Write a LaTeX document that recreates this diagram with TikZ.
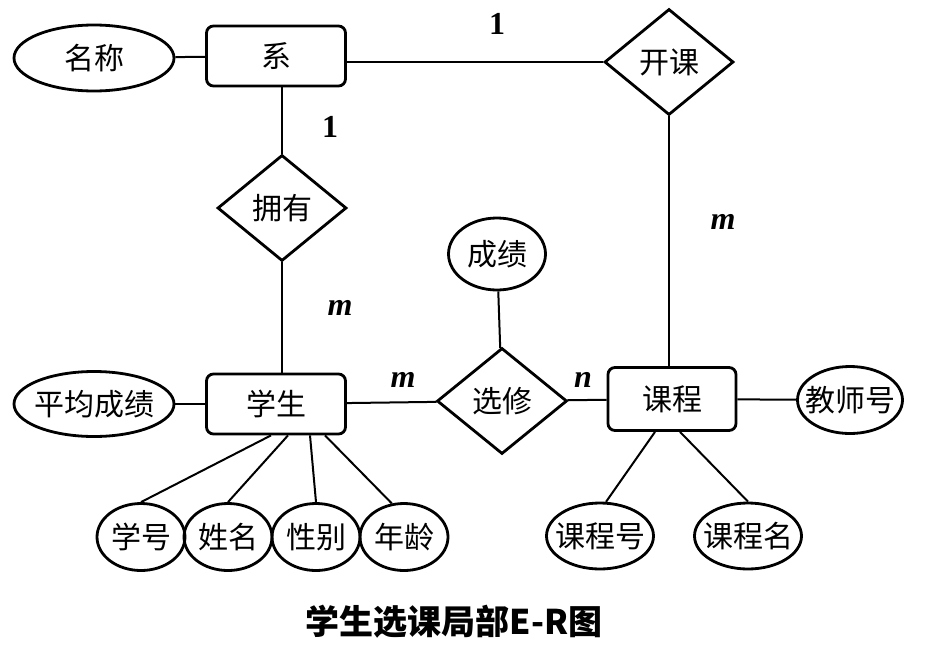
\documentclass[tikz,border=0pt]{standalone}
\usepackage{fontspec}
\setmainfont{Noto Sans CJK SC}
\newfontfamily\numfont{Liberation Serif}
\usetikzlibrary{shapes.geometric}
\tikzset{every node/.style={inner sep=0pt}}
\tikzset{ent/.style={rectangle,draw,line width=2.8pt,rounded corners=7pt,minimum width=139pt,minimum height=60pt}}
\tikzset{rel/.style={diamond,draw,line width=2.8pt,minimum width=129pt,minimum height=106pt}}
\tikzset{attr/.style={ellipse,draw,line width=2.8pt,minimum height=66pt}}
\tikzset{card/.style={font=\numfont\bfseries\fontsize{32}{32}\selectfont}}
\newcommand\lbl[1]{\makebox[0pt]{#1}}

\begin{document}
\begin{tikzpicture}[x=1pt,y=-1pt,font=\fontsize{30}{36}\selectfont,line width=2pt]
  \useasboundingbox (0,0) rectangle (937,656);
  % entities
  \node[ent] (xi) at (276,56) {系};
  \node[ent] (stu) at (276,404) {学生};
  \node[ent,minimum width=128pt,minimum height=63pt] (kc) at (672,399) {课程};
  % relationships
  \node[rel] (yy) at (282,208) {拥有};
  \node[rel] (kk) at (669,62) {开课};
  \node[rel,minimum width=130pt] (xx) at (502,401) {选修};
  % attributes
  \node[attr,minimum width=160pt] (mc) at (94,58) {\lbl{名称}};
  \node[attr,minimum width=160pt,minimum height=65pt] (pj) at (94,404) {\lbl{平均成绩}};
  \node[attr,minimum width=97pt,minimum height=72pt] (cj) at (497,254) {\lbl{成绩}};
  \node[attr,minimum width=105pt,minimum height=67pt] (js) at (850,400) {\lbl{教师号}};
  \node[attr,minimum width=88pt,minimum height=67pt] (xh) at (141,537) {\lbl{学号}};
  \node[attr,minimum width=88pt,minimum height=67pt] (xm) at (228,537) {\lbl{姓名}};
  \node[attr,minimum width=88pt,minimum height=67pt] (xb) at (316,537) {\lbl{性别}};
  \node[attr,minimum width=88pt,minimum height=67pt] (nl) at (404,537) {\lbl{年龄}};
  \node[attr,minimum width=107pt] (kh) at (600,536) {\lbl{课程号}};
  \node[attr,minimum width=107pt] (km) at (748,536) {\lbl{课程名}};
  % cardinalities
  \node[card] (c1) at (497,24) {1};
  \node[card] (c2) at (330,127) {1};
  \node[card] (c3) at (723,222) {\itshape m};
  \node[card] (c4) at (340,308) {\itshape m};
  \node[card] (c5) at (403,380) {\itshape m};
  \node[card] (c6) at (583,380) {\itshape n};
  % links
  \draw (mc) -- (xi);
  \draw (xi.east |- kk) -- (kk);
  \draw (yy |- xi.south) -- (yy);
  \draw (yy) -- (yy |- stu.north);
  \draw (kk) -- (kk |- kc.north);
  \draw (pj) -- (stu);
  \draw (stu) -- (xx);
  \draw (xx) -- (kc);
  \draw (cj) -- (xx);
  \draw (kc) -- (js);
  \draw ([xshift=-5pt]stu.south) -- (xh.north);
  \draw ([xshift=12pt]stu.south) -- (xm.north);
  \draw ([xshift=34pt]stu.south) -- (xb.north);
  \draw ([xshift=49pt]stu.south) -- (nl.110);
  \draw ([xshift=-17pt]kc.south) -- (kh.80);
  \draw ([xshift=8pt]kc.south) -- (km.north);
  % caption
  \node[font=\bfseries\fontsize{34}{40}\selectfont] (title) at (454,622) {学生选课局部E-R图};
\end{tikzpicture}
\end{document}
